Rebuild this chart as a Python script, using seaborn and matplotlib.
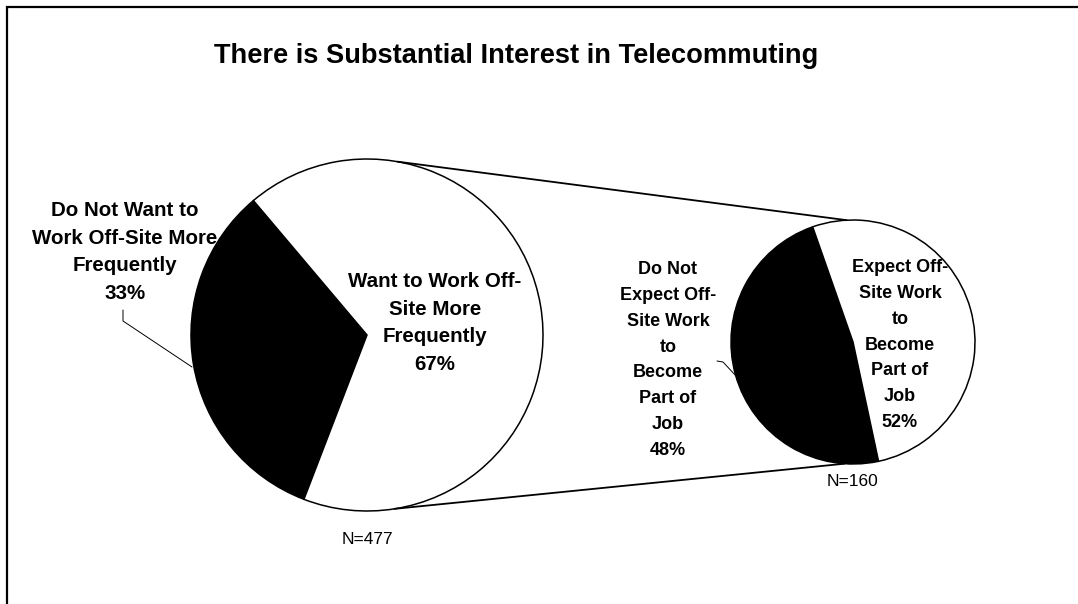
import numpy as np
import pandas as pd
import seaborn as sns
import matplotlib
matplotlib.use("Agg")
import matplotlib.pyplot as plt
from matplotlib.patches import Rectangle

# Survey results
main_labels = ["Do Not Want to\nWork Off-Site More\nFrequently", "Want to Work Off-\nSite More\nFrequently"]
main_values = [33, 67]
main_n = 477

sub_labels = ["Do Not\nExpect Off-\nSite Work\nto\nBecome\nPart of\nJob", "Expect Off-\nSite Work\nto\nBecome\nPart of\nJob"]
sub_values = [48, 52]
sub_n = 160

title = "There is Substantial Interest in Telecommuting"

main = pd.DataFrame({"label": main_labels, "pct": main_values})
sub = pd.DataFrame({"label": sub_labels, "pct": sub_values})

sns.set_theme(style="white")
plt.rcParams["font.family"] = ["Liberation Sans", "DejaVu Sans"]
plt.rcParams["text.color"] = "black"

W, H = 1078, 604
fig = plt.figure(figsize=(W / 100, H / 100), dpi=100)
ax = fig.add_axes([0, 0, 1, 1])


def Y(y):
    # convert a distance from the top edge into axis units
    return H - y


wedge_colors = ["black", "white"]
wprops = dict(edgecolor="black", linewidth=1.1)

# primary pie
c1, r1, start1 = (367, Y(335)), 176, 130.2
ax.pie(main["pct"], colors=wedge_colors, startangle=start1, counterclock=True,
       center=c1, radius=r1, wedgeprops=wprops, frame=True)

# secondary pie
c2, r2, start2 = (853, Y(342)), 122, 109.3
ax.pie(sub["pct"], colors=wedge_colors, startangle=start2, counterclock=True,
       center=c2, radius=r2, wedgeprops=wprops, frame=True)


def on_circle(c, r, deg):
    a = np.deg2rad(deg)
    return c[0] + r * np.cos(a), c[1] + r * np.sin(a)


# connector lines between the pies
for a_main, a_sub in [(80, 93), (-81, -94)]:
    p = on_circle(c1, r1, a_main)
    q = on_circle(c2, r2, a_sub)
    ax.plot([p[0], q[0]], [p[1], q[1]], color="black", lw=1.3, solid_capstyle="round")

big = dict(ha="center", va="center", fontsize=14.8, fontweight="bold", color="black",
           linespacing=1.58)
small = dict(ha="center", va="center", fontsize=13, fontweight="bold", color="black",
             linespacing=1.68)

# primary pie labels
ax.text(125, Y(252), f"{main_labels[0]}\n{main_values[0]}%", **big)
ax.text(435, Y(323), f"{main_labels[1]}\n{main_values[1]}%", **big)

# secondary pie labels
ax.text(668, Y(360), f"{sub_labels[0]}\n{sub_values[0]}%", **small)
ax.text(900, Y(345), f"{sub_labels[1]}\n{sub_values[1]}%", **small)

# leader lines
ax.plot([123, 123, 192], [Y(310), Y(321), Y(367)], color="black", lw=0.7)
ax.plot([717, 723, 737], [Y(361), Y(362), Y(377)], color="black", lw=0.7)

# sample sizes
ax.text(367, Y(540), f"N={main_n}", ha="center", va="center", fontsize=12.5, color="black")
ax.text(853, Y(482), f"N={sub_n}", ha="center", va="center", fontsize=12.5, color="black")

# title
ax.text(516, Y(56), title, ha="center", va="center", fontsize=19.6, fontweight="bold",
        color="black")

# outer frame (top and left edges fall inside the canvas)
ax.add_patch(Rectangle((7, -50), 1300, Y(7) + 50, fill=False, edgecolor="black",
                       lw=1.6, clip_on=False))

ax.set_xlim(0, W)
ax.set_ylim(0, H)
ax.set_aspect("equal")
ax.axis("off")

fig.savefig("out.png", dpi=100, facecolor="white")
